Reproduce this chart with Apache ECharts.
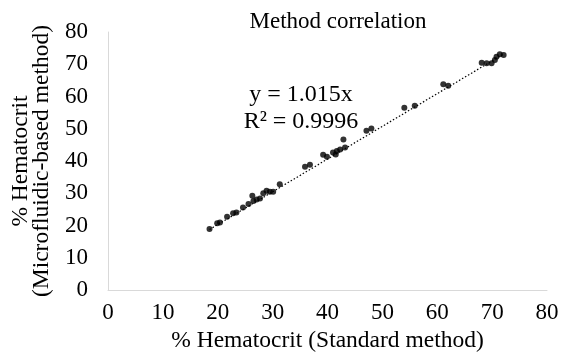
<!DOCTYPE html>
<html>
<head>
    <meta charset="utf-8">
    <title>Method correlation</title>
    <script src="https://cdn.jsdelivr.net/npm/echarts@6/dist/echarts.min.js"></script>
    <style>
        html, body { margin: 0; padding: 0; background: #fff; }
        #main { width: 561px; height: 352px; }
    </style>
</head>
<body>
<div id="main"></div>
<script type="text/javascript">

// % Hematocrit, standard method (x) vs microfluidic-based method (y)
var standardX = [18.5, 19.9, 20.4, 21.7, 22.8, 23.4, 24.6, 25.6, 26.3, 26.5, 27.1, 27.7,
                 28.3, 28.9, 29.5, 30.1, 31.3, 35.9, 36.8, 39.2, 39.9, 41.0, 41.5, 41.7,
                 42.3, 43.2, 42.9, 47.1, 48.0, 54.0, 55.9, 61.1, 62.0, 68.1, 69.0, 69.9,
                 70.5, 70.8, 71.4, 72.1];
var microY =    [18.9, 20.7, 20.9, 22.7, 23.8, 24.0, 25.6, 26.7, 29.2, 27.6, 28.1, 28.4,
                 30.0, 30.8, 30.5, 30.5, 32.8, 38.2, 38.8, 41.9, 41.3, 42.6, 42.0, 43.1,
                 43.6, 44.2, 46.7, 49.4, 50.1, 56.5, 57.1, 63.8, 63.3, 70.5, 70.3, 70.3,
                 71.3, 72.3, 73.1, 72.9];

var slope = 1.015;
var trendX = [18.5, 72.1];
var axisTicks = [0, 10, 20, 30, 40, 50, 60, 70, 80];

var points = standardX.map(function (x, i) { return [x, microY[i]]; });
var trend = trendX.map(function (x) { return [x, x * slope]; });

var serif = '"Liberation Serif", "Times New Roman", serif';

var myChart = echarts.init(document.getElementById('main'));

myChart.setOption({
    animation: false,
    title: [{
        text: 'Method correlation',
        left: 333,
        top: 5,
        textAlign: 'center',
        textStyle: { fontFamily: serif, fontSize: 23, fontWeight: 'normal', color: '#000', lineHeight: 23 }
    }, {
        text: 'y = 1.015x\nR² = 0.9996',
        left: 296,
        top: 76,
        textAlign: 'center',
        textStyle: { fontFamily: serif, fontSize: 24, fontWeight: 'normal', color: '#000', lineHeight: 27 }
    }],
    grid: {
        left: 108,
        right: 14,
        top: 32,
        bottom: 62,
        outerBoundsMode: 'none'
    },
    xAxis: {
        type: 'value',
        min: axisTicks[0],
        max: axisTicks[axisTicks.length - 1],
        interval: 10,
        name: '% Hematocrit (Standard method)',
        nameLocation: 'middle',
        nameGap: 31,
        nameTextStyle: { fontFamily: serif, fontSize: 23.5, color: '#000' },
        axisLine: { show: true, lineStyle: { color: '#d9d9d9', width: 1 } },
        axisTick: { show: false },
        splitLine: { show: false },
        axisLabel: { fontFamily: serif, fontSize: 23, color: '#000', margin: 11 }
    },
    yAxis: {
        type: 'value',
        min: axisTicks[0],
        max: axisTicks[axisTicks.length - 1],
        interval: 10,
        name: '% Hematocrit\n(Microfluidic-based method)',
        nameLocation: 'middle',
        nameGap: 51,
        nameTextStyle: { fontFamily: serif, fontSize: 23.5, color: '#000', lineHeight: 21 },
        axisLine: { show: true, lineStyle: { color: '#d9d9d9', width: 1 } },
        axisTick: { show: false },
        splitLine: { show: false },
        axisLabel: { fontFamily: serif, fontSize: 23, color: '#000', margin: 20 }
    },
    series: [{
        type: 'line',
        data: trend,
        showSymbol: false,
        lineStyle: { color: '#000', width: 1.2, type: [1.5, 2] },
        silent: true,
        z: 1
    }, {
        type: 'scatter',
        data: points,
        symbolSize: 6,
        itemStyle: { color: '#000' },
        z: 2
    }]
});
</script>
</body>
</html>
